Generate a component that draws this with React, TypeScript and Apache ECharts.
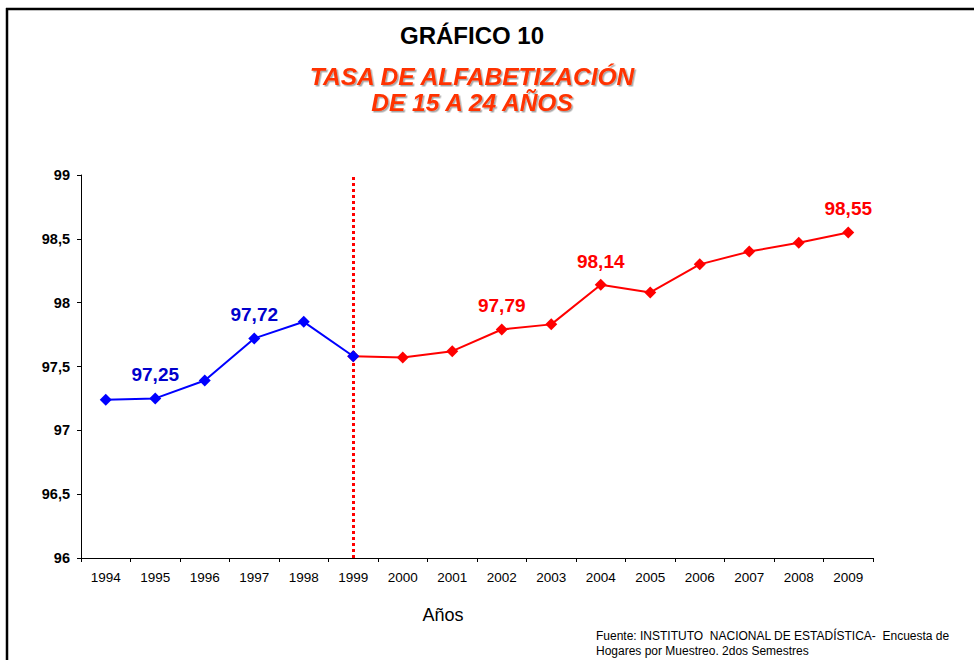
import React, { useEffect, useRef } from "react";
import * as echarts from "echarts";

const years = ["1994","1995","1996","1997","1998","1999","2000","2001","2002","2003","2004","2005","2006","2007","2008","2009"];
const blueValues: (number | null)[] = [97.24, 97.25, 97.39, 97.72, 97.85, 97.58, null, null, null, null, null, null, null, null, null, null];
const redValues: (number | null)[] = [null, null, null, null, null, 97.58, 97.57, 97.62, 97.79, 97.83, 98.14, 98.08, 98.30, 98.40, 98.47, 98.55];
const blueLabeled = ["1995", "1997"];
const redLabeled = ["2002", "2004", "2009"];
const dividerYear = "1999";

const FONT = "'Liberation Sans', Arial, sans-serif";

export default function App() {
  const ref = useRef<HTMLDivElement>(null);
  useEffect(() => {
    if (!ref.current) return;
    const chart = echarts.init(ref.current, undefined, { renderer: "svg" });
    const fmt = (v: number) => v.toFixed(2).replace(".", ",");
    const mk = (vals: (number | null)[], labeled: string[], color: string) =>
      vals.map((v, i) =>
        v === null
          ? null
          : {
              value: v,
              label: {
                show: labeled.includes(years[i]),
                position: "top",
                distance: 8,
                formatter: () => fmt(v),
                color,
                fontSize: 19,
                fontWeight: "bold",
                fontFamily: FONT,
              },
            }
      );
    chart.setOption({
      animation: false,
      backgroundColor: "#fff",
      textStyle: { fontFamily: FONT },
      title: [
        {
          text: "GRÁFICO 10",
          left: 467,
          top: 18,
          textAlign: "center",
          textStyle: { fontSize: 24, fontWeight: "bold", color: "#000", fontFamily: FONT },
        },
        {
          text: "TASA DE ALFABETIZACIÓN\nDE 15 A 24 AÑOS",
          left: 467,
          top: 58,
          textAlign: "center",
          textStyle: {
            fontSize: 24.5,
            fontWeight: "bold",
            fontStyle: "italic",
            color: "#ff3300",
            lineHeight: 26,
            fontFamily: FONT,
            textShadowColor: "rgba(0,0,0,0.35)",
            textShadowOffsetX: 1.5,
            textShadowOffsetY: 1.5,
            textShadowBlur: 1,
          },
        },
      ],
      grid: { left: 81, right: 101, top: 175, bottom: 102, containLabel: false },
      xAxis: {
        type: "category",
        data: years,
        boundaryGap: true,
        axisLine: { lineStyle: { color: "#000", width: 1 } },
        axisTick: { show: true, alignWithLabel: false, length: 4, lineStyle: { color: "#000" } },
        axisLabel: { color: "#000", fontSize: 13.5, margin: 12, fontFamily: FONT },
        splitLine: { show: false },
      },
      yAxis: {
        type: "value",
        min: 96,
        max: 99,
        interval: 0.5,
        axisLine: { show: true, lineStyle: { color: "#000", width: 1 } },
        axisTick: { show: true, length: 4, lineStyle: { color: "#000" } },
        axisLabel: {
          color: "#000",
          fontSize: 14.5,
          fontWeight: "bold",
          margin: 11,
          fontFamily: FONT,
          formatter: (v: number) => String(v).replace(".", ","),
        },
        splitLine: { show: false },
      },
      series: [
        {
          type: "line",
          data: mk(redValues, redLabeled, "#ff0000"),
          symbol: "diamond",
          symbolSize: 12,
          lineStyle: { color: "#ff0000", width: 2 },
          itemStyle: { color: "#ff0000" },
          connectNulls: false,
          z: 2,
          markLine: {
            silent: true,
            symbol: "none",
            label: { show: false },
            lineStyle: { color: "#ff0000", type: [3, 3], width: 3 },
            data: [{ xAxis: dividerYear }],
            z: 1,
          },
        },
        {
          type: "line",
          data: mk(blueValues, blueLabeled, "#0000cc"),
          symbol: "diamond",
          symbolSize: 12,
          lineStyle: { color: "#0000ff", width: 2 },
          itemStyle: { color: "#0000ff" },
          connectNulls: false,
          z: 3,
        },
      ],
      graphic: [
        { type: "line", shape: { x1: 6, y1: 9, x2: 974, y2: 9 }, style: { stroke: "#000", lineWidth: 2.5 } },
        { type: "line", shape: { x1: 7, y1: 8, x2: 7, y2: 660 }, style: { stroke: "#000", lineWidth: 2.5 } },
        {
          type: "text",
          x: 443,
          y: 615,
          style: {
            text: "Años",
            fontSize: 18,
            fill: "#000",
            fontFamily: FONT,
            align: "center",
            verticalAlign: "middle",
          },
        },
        {
          type: "text",
          left: 596,
          top: 628,
          style: {
            text: "Fuente: INSTITUTO  NACIONAL DE ESTADÍSTICA-  Encuesta de\nHogares por Muestreo. 2dos Semestres",
            fontSize: 12,
            lineHeight: 15,
            fill: "#000",
            fontFamily: FONT,
          },
        },
      ],
    });
    return () => chart.dispose();
  }, []);
  return <div ref={ref} style={{ position: "fixed", left: 0, top: 0, width: 974, height: 660 }} />;
}
